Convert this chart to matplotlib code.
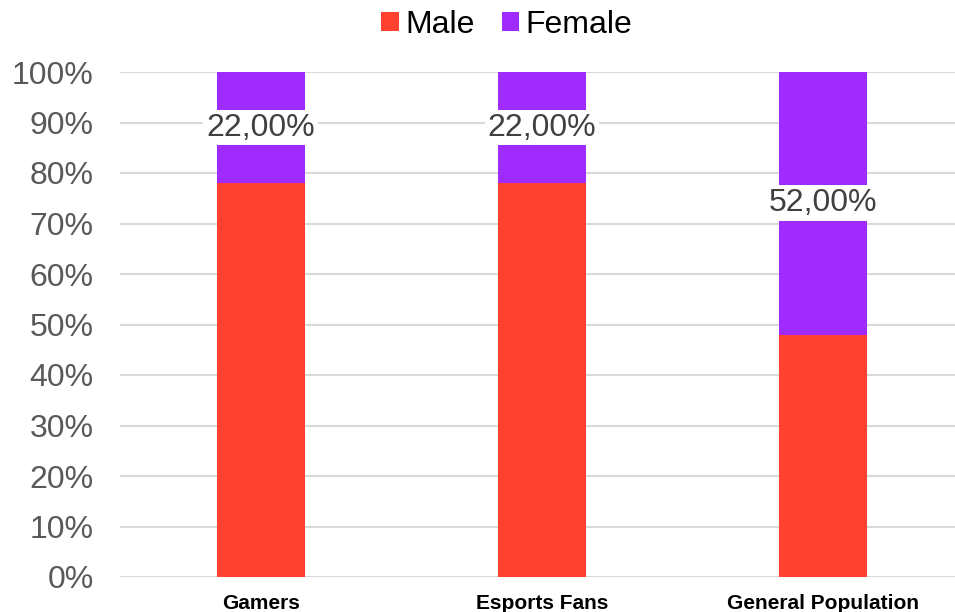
import matplotlib.pyplot as plt

categories = ['Gamers', 'Esports Fans', 'General Population']
male = [78, 78, 48]
female = [22, 22, 52]
female_labels = ['22,00%', '22,00%', '52,00%']

plt.rcParams['font.family'] = ['Liberation Sans', 'DejaVu Sans']

red = '#FF412D'
purple = '#A02BFF'

fig = plt.figure(figsize=(9.55, 6.12), dpi=100)
ax = fig.add_axes([120 / 955, 35 / 612, 843.5 / 955, 505 / 612])

x = range(len(categories))
ax.bar(x, male, width=0.313, color=red, label='Male', zorder=3)
ax.bar(x, female, width=0.313, bottom=male, color=purple, label='Female', zorder=3)

# Labels in the middle of the female part
for i in x:
    ax.text(i, male[i] + female[i] / 2, female_labels[i], ha='center', va='center',
            fontsize=23, color='#404040', zorder=4,
            bbox=dict(facecolor='white', edgecolor='none', pad=2))

ax.set_xlim(-0.5, 2.5)
ax.set_ylim(0, 100)
ax.set_yticks(range(0, 101, 10))
ax.set_yticklabels([f'{v}%' for v in range(0, 101, 10)], fontsize=23, color='#595959')
ax.set_xticks(list(x))
ax.set_xticklabels(categories, fontsize=15, fontweight='bold', color='black')
ax.tick_params(length=0)
ax.tick_params(axis='y', pad=19)
ax.tick_params(axis='x', pad=12)
ax.grid(axis='y', color='#d9d9d9', linewidth=1.5, zorder=0)
for s in ax.spines.values():
    s.set_visible(False)

handles, labels = ax.get_legend_handles_labels()
fig.legend(handles, labels, loc='center', bbox_to_anchor=(507 / 955, 1 - 25 / 612), ncol=2,
           frameon=False, fontsize=23, handlelength=0.55, handleheight=0.55,
           handletextpad=0.2, columnspacing=0.85)

fig.savefig('out.png', dpi=100)
